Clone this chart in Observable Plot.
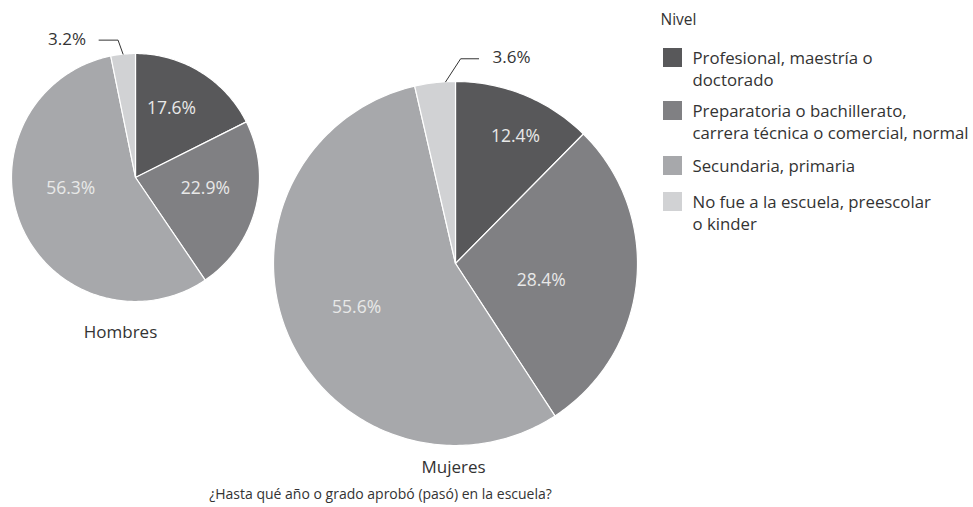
<!DOCTYPE html>
<html><head><meta charset="utf-8">
<script src="https://cdn.jsdelivr.net/npm/d3@7"></script>
<script src="https://cdn.jsdelivr.net/npm/@observablehq/plot@0.6"></script>
<style>body{margin:0;background:#fff} svg{display:block}</style>
</head><body><div id="chart"></div>
<script>
// ---- data ----
const levels = [
  "Profesional, maestría o doctorado",
  "Preparatoria o bachillerato, carrera técnica o comercial, normal",
  "Secundaria, primaria",
  "No fue a la escuela, preescolar o kinder"
];
const legendLines = [
  ["Profesional, maestría o", "doctorado"],
  ["Preparatoria o bachillerato,", "carrera técnica o comercial, normal"],
  ["Secundaria, primaria"],
  ["No fue a la escuela, preescolar", "o kinder"]
];
const groups = ["Hombres", "Mujeres"];
const hombres = [17.6, 22.9, 56.3, 3.2];
const mujeres = [12.4, 28.4, 55.6, 3.6];
const colors = ["#58585a", "#808083", "#a7a8ab", "#d1d2d4"];
const legendTitle = "Nivel";
const caption = "¿Hasta qué año o grado aprobó (pasó) en la escuela?";

// ---- layout ----
const W = 973, H = 507;
const FONT = "Open Sans, Noto Sans, sans-serif";
const pies = [
  {name: groups[0], values: hombres, cx: 135, cy: 177, r: 124, nameX: 120, nameY: 332,
   lr: [0.63, 0.57, 0.53], ld: [-4.2, -5.7, 13.4],
   anchorFrac: 0.5, elbow: [-5, -14], tail: -19, gap: -13},
  {name: groups[1], values: mujeres, cx: 455, cy: 263, r: 182, nameX: 453, nameY: 467,
   lr: [0.77, 0.48, 0.595], ld: [3, 5.5, -1],
   anchorFrac: 0.76, elbow: [15, -23], tail: 18, gap: 14}
];

const slices = [], inLabels = [], outLabels = [], leaders = [], names = [];
pies.forEach(p => {
  const total = d3.sum(p.values);
  let cum = 0;
  p.values.forEach((v, i) => {
    const a0 = cum / total * 2 * Math.PI, a1 = (cum + v) / total * 2 * Math.PI;
    cum += v;
    const key = p.name + i;
    slices.push({key, level: levels[i], x: p.cx, y: p.cy});
    const n = Math.max(2, Math.ceil((a1 - a0) / (Math.PI / 180)));
    for (let k = 0; k <= n; k++) {
      const a = a0 + (a1 - a0) * k / n;
      slices.push({key, level: levels[i], x: p.cx + p.r * Math.sin(a), y: p.cy - p.r * Math.cos(a)});
    }
    const label = v.toFixed(1) + "%";
    if (v >= 5) {
      const am = (a0 + a1) / 2 + p.ld[i] * Math.PI / 180, rr = p.r * p.lr[i];
      inLabels.push({x: p.cx + rr * Math.sin(am), y: p.cy - rr * Math.cos(am), label});
    } else {
      const aa = a0 + (a1 - a0) * p.anchorFrac;
      const ax = p.cx + p.r * Math.sin(aa), ay = p.cy - p.r * Math.cos(aa);
      const ex = ax + p.elbow[0], ey = ay + p.elbow[1];
      const tx = ex + p.tail;
      leaders.push({k: key, x: ax, y: ay}, {k: key, x: ex, y: ey}, {k: key, x: tx, y: ey});
      outLabels.push({x: tx + p.gap, y: ey - 1, label, anchor: p.gap < 0 ? "end" : "start"});
    }
  });
  names.push({x: p.nameX, y: p.nameY, label: p.name});
});

// legend
const legX = 663, sw = 19, textX = 692, lineH = 22;
const rowY = [58, 111, 166, 202];
const swatches = levels.map((l, i) => ({level: l, x1: legX, x2: legX + sw, y1: rowY[i] - 10, y2: rowY[i] - 10 + sw}));
const legText = [];
legendLines.forEach((lines, i) => lines.forEach((t, j) => legText.push({x: textX, y: rowY[i] + j * lineH, label: t})));

const chart = Plot.plot({
  width: W, height: H, margin: 0,
  x: {domain: [0, W], range: [0, W], axis: null},
  y: {domain: [0, H], range: [0, H], axis: null},
  color: {domain: levels, range: colors},
  style: {fontFamily: FONT, background: "#fff"},
  marks: [
    Plot.line(slices, {x: "x", y: "y", z: "key", fill: "level", stroke: "#fff", strokeWidth: 1.2, curve: "linear-closed", strokeLinejoin: "round"}),
    Plot.line(leaders, {x: "x", y: "y", z: "k", stroke: "#333", strokeWidth: 1}),
    Plot.text(inLabels, {x: "x", y: "y", text: "label", fill: "#e8e8e8", fontSize: 17.5}),
    Plot.text(outLabels.filter(d => d.anchor === "end"), {x: "x", y: "y", text: "label", fill: "#333", fontSize: 17, textAnchor: "end"}),
    Plot.text(outLabels.filter(d => d.anchor === "start"), {x: "x", y: "y", text: "label", fill: "#333", fontSize: 17, textAnchor: "start"}),
    Plot.text(names, {x: "x", y: "y", text: "label", fill: "#333", fontSize: 17}),
    Plot.text([caption], {x: [380], y: [494], text: d => d, fill: "#333", fontSize: 14}),
    Plot.text([legendTitle], {x: [660], y: [20], text: d => d, fill: "#333", fontSize: 15.5, textAnchor: "start"}),
    Plot.rect(swatches, {x1: "x1", x2: "x2", y1: "y1", y2: "y2", fill: "level"}),
    Plot.text(legText, {x: "x", y: "y", text: "label", fill: "#333", fontSize: 16.8, textAnchor: "start"})
  ]
});
document.getElementById("chart").appendChild(chart);
</script>
</body></html>
